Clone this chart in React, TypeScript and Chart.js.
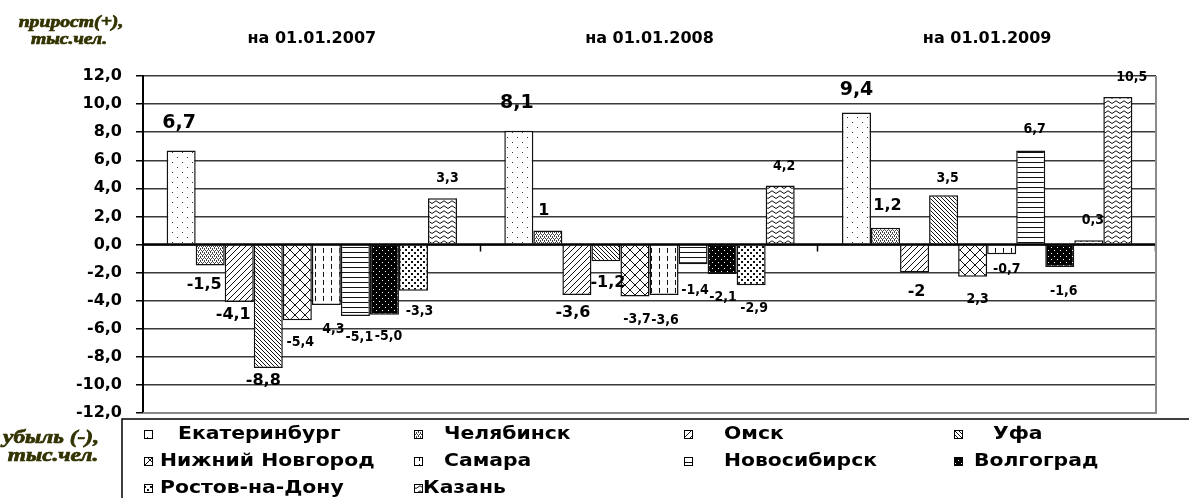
import { useEffect, useRef } from 'react';
import { Chart, registerables } from 'chart.js';

Chart.register(...registerables);

// ---- data ----
const categories = ['на 01.01.2007', 'на 01.01.2008', 'на 01.01.2009'];
const cities = ['Екатеринбург', 'Челябинск', 'Омск', 'Уфа', 'Нижний Новгород', 'Самара', 'Новосибирск', 'Волгоград', 'Ростов-на-Дону', 'Казань'];

const ekaterinburg = [6.7, 8.1, 9.4];
const chelyabinsk = [-1.5, 1.0, 1.2];
const omsk = [-4.1, -3.6, -2.0];
const ufa = [-8.8, -1.2, 3.5];
const nizhny = [-5.4, -3.7, -2.3];
const samara = [-4.3, -3.6, -0.7];
const novosibirsk = [-5.1, -1.4, 6.7];
const volgograd = [-5.0, -2.1, -1.6];
const rostov = [-3.3, -2.9, 0.3];
const kazan = [3.3, 4.2, 10.5];

// value label texts as printed on the picture
const ekaterinburgText = ['6,7', '8,1', '9,4'];
const chelyabinskText = ['-1,5', '1', '1,2'];
const omskText = ['-4,1', '-3,6', '-2'];
const ufaText = ['-8,8', '-1,2', '3,5'];
const nizhnyText = ['-5,4', '-3,7', '2,3'];
const samaraText = ['4,3', '-3,6', '-0,7'];
const novosibirskText = ['-5,1', '-1,4', '6,7'];
const volgogradText = ['-5,0', '-2,1', '-1,6'];
const rostovText = ['-3,3', '-2,9', '0,3'];
const kazanText = ['3,3', '4,2', '10,5'];

const yTicksMin = -12;
const yTicksMax = 12;
const yTicksStep = 2;

const seriesValues = [ekaterinburg, chelyabinsk, omsk, ufa, nizhny, samara, novosibirsk, volgograd, rostov, kazan];
const seriesTexts = [ekaterinburgText, chelyabinskText, omskText, ufaText, nizhnyText, samaraText, novosibirskText, volgogradText, rostovText, kazanText];

// ---- styling (label placement relative to bar end, sizes) ----
const labelOffsets: number[][][] = [
  [[-2, -27], [-2, -28], [0, -22]],
  [[-6, 19], [-4, -20], [2, -22]],
  [[-6, 13], [-4, 18], [2, 19]],
  [[-5, 13], [2, 21], [4, -17]],
  [[3, 22], [2, 23], [5, 23]],
  [[7, 24], [1, 25], [5, 15]],
  [[4, 21], [2, 26], [4, -21]],
  [[4, 22], [1, 23], [4, 24]],
  [[6, 21], [3, 23], [4, -20]],
  [[5, -20], [4, -19], [14, -20]],
];
const labelSizes: string[][] = [
  ['L', 'L', 'L'],
  ['M', 'M', 'M'],
  ['M', 'M', 'M'],
  ['M', 'M', 'S'],
  ['S', 'S', 'S'],
  ['S', 'S', 'S'],
  ['S', 'S', 'S'],
  ['S', 'S', 'S'],
  ['S', 'S', 'S'],
  ['S', 'S', 'S'],
];
const labelFonts: Record<string, string> = {
  L: 'bold 19px "DejaVu Sans"',
  M: 'bold 16px "DejaVu Sans"',
  S: 'bold 14px "DejaVu Sans Condensed"',
};
// legend: [marker center x, text x, row]
const legendLayout = [
  [148, 178, 0], [418, 444, 0], [688, 724, 0], [958, 993, 0],
  [148, 160, 1], [418, 444, 1], [688, 724, 1], [958, 974, 1],
  [148, 160, 2], [418, 423, 2],
];
const legendRows = [434, 461, 488];

function makePattern(kind: number): CanvasPattern | string {
  const c = document.createElement('canvas');
  const sizes = [[10, 10], [4, 4], [6, 6], [4, 4], [10, 10], [8, 8], [4, 5], [6, 6], [6, 6], [8, 5]];
  const [w, h] = sizes[kind];
  c.width = w;
  c.height = h;
  const g = c.getContext('2d');
  if (!g) return '#fff';
  g.fillStyle = '#fff';
  g.fillRect(0, 0, w, h);
  g.fillStyle = '#111';
  g.strokeStyle = '#111';
  g.lineWidth = 1;
  const line = (x1: number, y1: number, x2: number, y2: number) => {
    g.beginPath();
    g.moveTo(x1, y1);
    g.lineTo(x2, y2);
    g.stroke();
  };
  switch (kind) {
    case 0:
      g.fillStyle = '#333';
      g.fillRect(2, 2, 1, 1);
      g.fillRect(7, 7, 1, 1);
      break;
    case 1:
      g.fillStyle = '#444';
      g.fillRect(0, 0, 1, 1);
      g.fillRect(2, 0, 1, 1);
      g.fillRect(1, 2, 1, 1);
      g.fillRect(3, 2, 1, 1);
      g.fillRect(0, 1, 1, 1);
      g.fillRect(2, 3, 1, 1);
      break;
    case 2:
      line(-1, 7, 7, -1);
      line(-1, 1, 1, -1);
      line(5, 7, 7, 5);
      break;
    case 3:
      line(-1, -1, 5, 5);
      line(-1, 3, 1, 5);
      line(3, -1, 5, 1);
      break;
    case 4:
      line(-1, -1, 11, 11);
      line(-1, 11, 11, -1);
      break;
    case 5:
      g.fillRect(3, 0, 1, 5);
      break;
    case 6:
      g.fillRect(0, 2, w, 1);
      break;
    case 7:
      g.fillStyle = '#000';
      g.fillRect(0, 0, w, h);
      g.fillStyle = '#fff';
      g.fillRect(1, 1, 1, 1);
      g.fillRect(4, 4, 1, 1);
      break;
    case 8:
      g.fillRect(0, 0, 2, 2);
      g.fillRect(3, 3, 2, 2);
      break;
    case 9:
      g.beginPath();
      g.moveTo(0, 3.5);
      g.lineTo(4, 0.8);
      g.lineTo(8, 3.5);
      g.stroke();
      break;
  }
  const p = g.createPattern(c, 'repeat');
  return p || '#fff';
}

const fmtTick = (v: number | string) => Number(v).toFixed(1).replace('.', ',');

export default function App() {
  const canvasRef = useRef<HTMLCanvasElement | null>(null);

  useEffect(() => {
    const canvas = canvasRef.current;
    if (!canvas) return;
    const patterns = cities.map((_, i) => makePattern(i));

    const decorPlugin = {
      id: 'decor',
      afterDatasetsDraw(chart: any) {
        const { ctx, chartArea, scales } = chart;
        const y = scales.y;
        const y0 = y.getPixelForValue(0);
        ctx.save();
        // zero axis line
        ctx.strokeStyle = '#000';
        ctx.lineWidth = 2.5;
        ctx.beginPath();
        ctx.moveTo(chartArea.left, y0);
        ctx.lineTo(chartArea.right, y0);
        ctx.stroke();
        // category boundary ticks
        ctx.lineWidth = 1.5;
        const catW = (chartArea.right - chartArea.left) / categories.length;
        for (let i = 1; i <= categories.length; i++) {
          const bx = Math.round(chartArea.left + catW * i) - 0.5;
          ctx.beginPath();
          ctx.moveTo(bx, y0);
          ctx.lineTo(bx, y0 + 7);
          ctx.stroke();
        }
        // plot area right / bottom border
        ctx.strokeStyle = '#8a8a8a';
        ctx.lineWidth = 2;
        ctx.beginPath();
        ctx.moveTo(chartArea.right, chartArea.top);
        ctx.lineTo(chartArea.right, chartArea.bottom);
        ctx.lineTo(chartArea.left, chartArea.bottom);
        ctx.stroke();

        // value labels
        ctx.fillStyle = '#000';
        ctx.textAlign = 'center';
        ctx.textBaseline = 'middle';
        chart.data.datasets.forEach((_ds: any, di: number) => {
          const meta = chart.getDatasetMeta(di);
          meta.data.forEach((el: any, i: number) => {
            const [dx, dy] = labelOffsets[di][i];
            ctx.font = labelFonts[labelSizes[di][i]];
            ctx.fillText(seriesTexts[di][i], el.x + dx, el.y + dy);
          });
        });
        ctx.restore();
      },
      afterDraw(chart: any) {
        const { ctx } = chart;
        ctx.save();
        // corner captions
        ctx.fillStyle = '#333300';
        ctx.strokeStyle = '#333300';
        ctx.lineWidth = 0.7;
        ctx.textAlign = 'center';
        ctx.textBaseline = 'middle';
        const cap = (t: string, cx: number, cy: number, size: number) => {
          ctx.save();
          ctx.translate(cx, cy);
          ctx.scale(1.23, 1);
          ctx.font = `italic bold ${size}px "Liberation Serif"`;
          ctx.fillText(t, 0, 0);
          ctx.strokeText(t, 0, 0);
          ctx.restore();
        };
        cap('прирост(+),', 71, 23, 16);
        cap('тыс.чел.', 69, 40, 16);
        cap('убыль (-),', 51, 438, 19);
        cap('тыс.чел.', 53, 456, 19);

        // legend frame
        ctx.strokeStyle = '#000';
        ctx.lineWidth = 1.5;
        ctx.beginPath();
        ctx.moveTo(1189, 419);
        ctx.lineTo(122, 419);
        ctx.lineTo(122, 498);
        ctx.stroke();

        // legend items
        ctx.textAlign = 'left';
        ctx.font = 'bold 18px "DejaVu Sans"';
        chart.data.datasets.forEach((ds: any, i: number) => {
          const [mx, tx, row] = legendLayout[i];
          const ry = legendRows[row];
          ctx.fillStyle = ds.backgroundColor;
          ctx.fillRect(mx - 4, ry - 4, 8, 8);
          ctx.lineWidth = 1;
          ctx.strokeStyle = '#000';
          ctx.strokeRect(mx - 4 + 0.5, ry - 4 + 0.5, 8, 8);
          ctx.fillStyle = '#000';
          ctx.save();
          ctx.translate(tx, ry);
          ctx.scale(1.13, 1);
          ctx.fillText(ds.label, 0, 0);
          ctx.restore();
        });
        ctx.restore();
      },
    };

    const chart = new Chart(canvas, {
      type: 'bar',
      data: {
        labels: categories,
        datasets: cities.map((name, i) => ({
          label: name,
          data: seriesValues[i],
          backgroundColor: patterns[i] as any,
          borderColor: '#111',
          borderWidth: 1.5,
          categoryPercentage: 0.86,
          barPercentage: 1,
        })),
      },
      options: {
        animation: false,
        responsive: false,
        layout: { padding: { left: 0, top: 0, right: 33, bottom: 85 } },
        plugins: {
          legend: { display: false },
          tooltip: { enabled: false },
        },
        scales: {
          x: {
            position: 'top',
            grid: { display: false, drawTicks: false },
            border: { display: false },
            ticks: {
              color: '#000',
              padding: 28,
              font: { family: 'DejaVu Sans', weight: 'bold', size: 16 },
            },
            afterFit(s: any) {
              s.height = 76;
            },
          },
          y: {
            min: yTicksMin,
            max: yTicksMax,
            ticks: {
              stepSize: yTicksStep,
              color: '#000',
              padding: 14,
              font: { family: 'DejaVu Sans', weight: 'bold', size: 16 },
              callback: (v: any) => fmtTick(v),
            },
            grid: {
              color: (c: any) => (c.tick && c.tick.value === yTicksMin ? '#8a8a8a' : '#3a3a3a'),
              lineWidth: 1.5,
              tickLength: 7,
              tickColor: '#000',
            },
            border: { display: true, color: '#000', width: 2 },
            afterFit(s: any) {
              s.width = 143;
            },
          },
        },
      } as any,
      plugins: [decorPlugin],
    });
    return () => chart.destroy();
  }, []);

  return (
    <div style={{ position: 'absolute', left: 0, top: 0, width: 1189, height: 498, background: '#fff' }}>
      <canvas ref={canvasRef} width={1189} height={498} style={{ display: 'block' }} />
    </div>
  );
}
